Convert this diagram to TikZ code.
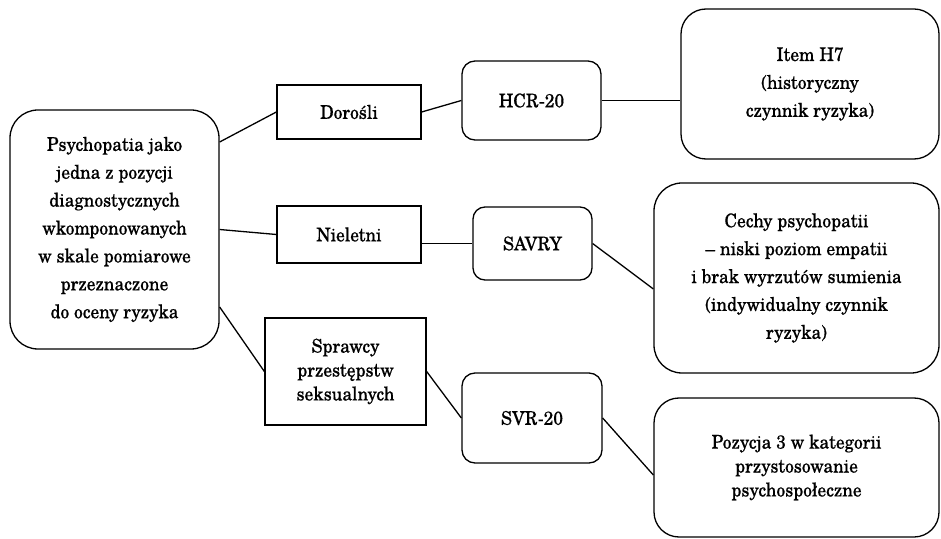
\documentclass[tikz,border=0pt]{standalone}
\usepackage{fontspec}
\setmainfont{TeX Gyre Schola}[FakeStretch=0.92, FakeBold=0.5]
\usetikzlibrary{calc}
\newcommand\fA{\fontsize{19}{28}\selectfont}
\newcommand\fB{\fontsize{19}{24}\selectfont}
\tikzset{
  box/.style={draw, line width=1.3bp, inner sep=0pt, align=center, font=\fA, text=black},
  sq/.style={box, rectangle},
  rr/.style={box, rectangle, rounded corners=#1},
  conn/.style={line width=1.3bp}
}
\begin{document}
\begin{tikzpicture}[x=1bp,y=-1bp]
\useasboundingbox[fill=white] (0,0) rectangle (941,539);
\node[rr=28bp, minimum width=209bp, minimum height=239bp] (root) at (114.5,229.5)
  {Psychopatia jako\\jedna z pozycji\\diagnostycznych\\wkomponowanych\\w skale pomiarowe\\przeznaczone\\do oceny ryzyka};
\node[sq, minimum width=144bp, minimum height=54bp] (dor) at (349,112) {Dorośli};
\node[sq, minimum width=144bp, minimum height=57bp] (niel) at (349,234.5) {Nieletni};
\node[sq, font=\fB, minimum width=161bp, minimum height=107bp] (spraw) at (345.5,371.5)
  {Sprawcy\\przestępstw\\seksualnych};
\node[rr=13bp, minimum width=139bp, minimum height=79bp] (hcr) at (531.5,100.5) {HCR-20};
\node[rr=12bp, minimum width=119bp, minimum height=73bp] (savry) at (532.5,243.5) {SAVRY};
\node[rr=13bp, minimum width=140bp, minimum height=90bp] (svr) at (532,418) {SVR-20};
\node[rr=25bp, minimum width=258bp, minimum height=150bp] (item) at (810,84)
  {Item H7\\(historyczny\\czynnik ryzyka)};
\node[rr=28bp, minimum width=285bp, minimum height=190bp] (cechy) at (796.5,278)
  {Cechy psychopatii\\– niski poziom empatii\\i brak wyrzutów sumienia\\(indywidualny czynnik\\ryzyka)};
\node[rr=25bp, font=\fB, minimum width=285bp, minimum height=139bp] (poz) at (796.5,467.5)
  {Pozycja 3 w kategorii\\przystosowanie\\psychospołeczne};
\draw[conn] ([yshift=87.5bp]root.east) -- (dor.west);
\draw[conn] (root.east) -- (niel.west);
\draw[conn] ([yshift=-77.5bp]root.east) -- (spraw.west);
\draw[conn] (dor.east) -- (hcr.west);
\draw[conn] (hcr.east) -- (hcr.east -| item.west);
\draw[conn] (savry.west -| niel.east) -- (savry.west);
\draw[conn] (savry.east) -- ([yshift=-11bp]cechy.west);
\draw[conn] (spraw.east) -- (svr.west);
\draw[conn] (svr.east) -- ([yshift=-7.5bp]poz.west);
\end{tikzpicture}
\end{document}
